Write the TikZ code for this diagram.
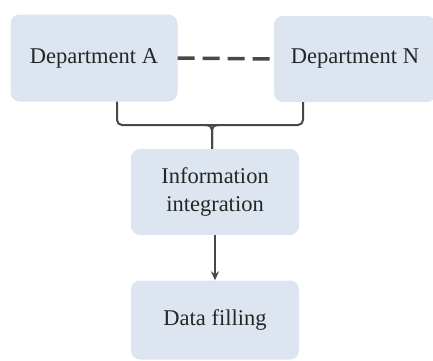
\documentclass[tikz,border=0pt]{standalone}
\usepackage{fontspec}
\setmainfont{Liberation Serif}
\usetikzlibrary{arrows.meta, positioning}
\definecolor{boxfill}{RGB}{220,229,240}
\definecolor{linegray}{RGB}{72,72,72}

\begin{document}
\begin{tikzpicture}[x=1pt, y=-1pt,
            box/.style={
                fill=boxfill,
                rounded corners=9pt,
                align=center,
                text=black!85,
                font=\fontsize{22.5}{28}\selectfont,
                inner sep=0pt
            },
            dashline/.style={draw=linegray, line width=3.5pt, dash pattern=on 17pt off 8pt},
            brk/.style={draw=linegray, line width=2pt, rounded corners=5pt},
            arr/.style={draw=linegray, line width=2pt, -{Stealth[length=9pt,width=8pt]}}]
            \useasboundingbox (0,0) rectangle (433,360);
            \node (depa) [box, minimum width=167pt, minimum height=87pt] at (94,58) {Department A};
            \node (depn) [box, minimum width=162pt, minimum height=86pt] at (355,59) {Department N};
            \node (info) [box, minimum width=168pt, minimum height=86pt] at (215,192) {Information\\integration};
            \node (data) [box, minimum width=168pt, minimum height=79pt] at (215,320) {Data filling};
            % links
            \draw[dashline] (depa.east) -- (depn.west);
            \coordinate (join) at (212,125);
            \draw[brk] ([xshift=23pt]depa.south) |- (join) -| ([xshift=-52pt]depn.south);
            \draw[brk] ([xshift=-7pt]join) -| (info.north -| join);
            \draw[brk] ([xshift=7pt]join) -| (info.north -| join);
            \draw[arr] (info.south) -- (data.north);
\end{tikzpicture}
\end{document}
